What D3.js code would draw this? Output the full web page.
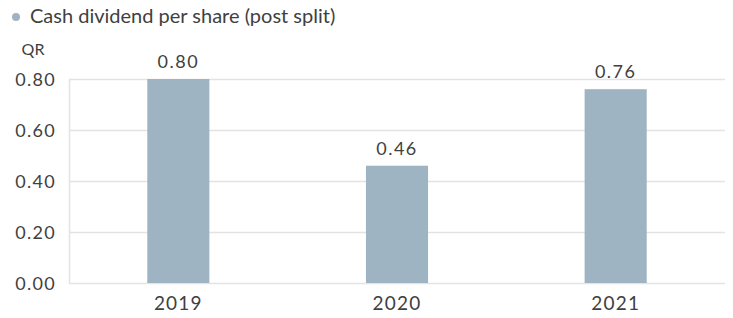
<!DOCTYPE html>
<html lang="en">
<head>
  <meta charset="UTF-8">
  <title>Cash dividend per share</title>
  <script src="https://d3js.org/d3.v7.min.js"></script>
  <style>
    body { margin: 0; background: #fff; }
    text { font-family: "Lato", "Noto Sans", sans-serif; fill: #3f3f3f; }
  </style>
</head>
<body>
  <svg width="733" height="318"></svg>

  <script>
    const years = ["2019", "2020", "2021"];
    const dividend = [0.80, 0.46, 0.76];
    const yTicks = [0, 0.2, 0.4, 0.6, 0.8];

    const width = 733;
    const height = 318;
    const margin = { top: 79, right: 8, bottom: 35, left: 69 };
    const barColor = "#9fb4c2";
    const gridColor = "#e3e3e3";

    const svg = d3.select("svg");

    const x = d3.scaleBand()
      .domain(years)
      .range([margin.left, width - margin.right])
      .paddingInner(0.716)
      .paddingOuter(0.358);

    const y = d3.scaleLinear()
      .domain([0, 0.8])
      .range([height - margin.bottom, margin.top]);

    // gridlines
    svg.append("g")
      .selectAll("line")
      .data(yTicks)
      .join("line")
      .attr("x1", margin.left)
      .attr("x2", width - margin.right)
      .attr("y1", d => y(d) + 0.5)
      .attr("y2", d => y(d) + 0.5)
      .attr("stroke", gridColor)
      .attr("stroke-width", 1.5);

    // left axis line
    svg.append("line")
      .attr("x1", margin.left + 0.5)
      .attr("x2", margin.left + 0.5)
      .attr("y1", y(0.8))
      .attr("y2", y(0) + 1)
      .attr("stroke", gridColor)
      .attr("stroke-width", 1.5);

    // y tick labels
    svg.append("g")
      .selectAll("text")
      .data(yTicks)
      .join("text")
      .attr("x", 56)
      .attr("y", d => y(d) + 6.5)
      .attr("text-anchor", "end")
      .attr("font-size", 18)
      .attr("letter-spacing", 1.3)
      .text(d => d.toFixed(2));

    svg.append("text")
      .attr("x", 33)
      .attr("y", 55)
      .attr("text-anchor", "middle")
      .attr("font-size", 16)
      .text("QR");

    // bars
    svg.append("g")
      .selectAll("rect")
      .data(years)
      .join("rect")
      .attr("x", d => x(d))
      .attr("width", x.bandwidth())
      .attr("y", (d, i) => y(dividend[i]))
      .attr("height", (d, i) => y(0) - y(dividend[i]))
      .attr("fill", barColor);

    // value labels
    svg.append("g")
      .selectAll("text")
      .data(years)
      .join("text")
      .attr("x", d => x(d) + x.bandwidth() / 2)
      .attr("y", (d, i) => y(dividend[i]) - 11)
      .attr("text-anchor", "middle")
      .attr("font-size", 18)
      .attr("letter-spacing", 1.5)
      .text((d, i) => dividend[i].toFixed(2));

    // x labels
    svg.append("g")
      .selectAll("text")
      .data(years)
      .join("text")
      .attr("x", d => x(d) + x.bandwidth() / 2)
      .attr("y", 310)
      .attr("text-anchor", "middle")
      .attr("font-size", 19)
      .attr("letter-spacing", 1.2)
      .text(d => d);

    // legend
    svg.append("circle")
      .attr("cx", 16)
      .attr("cy", 17)
      .attr("r", 4)
      .attr("fill", barColor);

    svg.append("text")
      .attr("x", 30)
      .attr("y", 23)
      .attr("font-size", 20)
      .text("Cash dividend per share (post split)");
  </script>
</body>
</html>
